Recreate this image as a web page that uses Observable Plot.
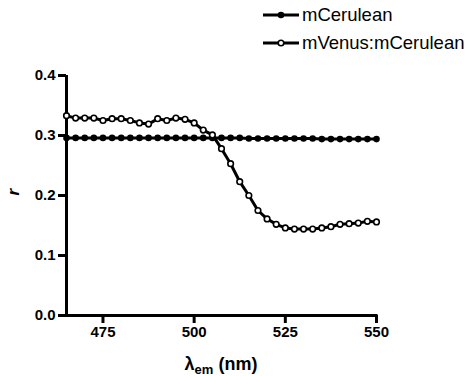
<!DOCTYPE html>
<html>
<head>
<meta charset="utf-8">
<script src="https://cdn.jsdelivr.net/npm/d3@7"></script>
<script src="https://cdn.jsdelivr.net/npm/@observablehq/plot@0.6"></script>
<style>
  html, body { margin: 0; padding: 0; background: #fff; }
  #wrap { position: relative; width: 476px; height: 376px; }
  #legend { position: absolute; left: 263px; top: 0; font-family: "Liberation Sans", Arial, sans-serif; font-size: 18.5px; color: #000; }
  .row { position: absolute; left: 0; height: 20px; display: flex; align-items: center; white-space: nowrap; }
  .row svg { margin-right: 3px; }
</style>
</head>
<body>
<div id="wrap"><div id="legend"></div></div>
<script>
const wavelengths = [465, 467.5, 470, 472.5, 475, 477.5, 480, 482.5, 485, 487.5, 490, 492.5, 495, 497.5, 500, 502.5, 505, 507.5, 510, 512.5, 515, 517.5, 520, 522.5, 525, 527.5, 530, 532.5, 535, 537.5, 540, 542.5, 545, 547.5, 550];
const mCerulean = [0.296, 0.296, 0.296, 0.296, 0.296, 0.296, 0.296, 0.296, 0.296, 0.296, 0.296, 0.296, 0.296, 0.296, 0.296, 0.296, 0.296, 0.296, 0.296, 0.296, 0.295, 0.295, 0.295, 0.295, 0.295, 0.295, 0.295, 0.295, 0.294, 0.294, 0.294, 0.294, 0.294, 0.294, 0.294];
const mVenusCerulean = [0.333, 0.329, 0.329, 0.329, 0.325, 0.328, 0.328, 0.325, 0.321, 0.319, 0.328, 0.325, 0.329, 0.327, 0.321, 0.309, 0.301, 0.278, 0.253, 0.223, 0.200, 0.175, 0.161, 0.152, 0.146, 0.144, 0.144, 0.144, 0.146, 0.148, 0.152, 0.153, 0.154, 0.157, 0.156];
const seriesNames = ["mCerulean", "mVenus:mCerulean"];
const xTicks = [475, 500, 525, 550];
const yTicks = [0, 0.1, 0.2, 0.3, 0.4];

const rows = [];
wavelengths.forEach((w, i) => {
  rows.push({series: seriesNames[0], x: w, y: mCerulean[i]});
  rows.push({series: seriesNames[1], x: w, y: mVenusCerulean[i]});
});
const cer = rows.filter(d => d.series === seriesNames[0]);
const ven = rows.filter(d => d.series === seriesNames[1]);

const font = '"Liberation Sans", Arial, sans-serif';

const chart = Plot.plot({
  width: 476,
  height: 376,
  marginLeft: 66,
  marginRight: 100,
  marginTop: 75,
  marginBottom: 61,
  style: {fontFamily: font, fontSize: "15px", fontWeight: "bold", color: "#000", background: "#fff"},
  x: {domain: [465, 550]},
  y: {domain: [0, 0.4]},
  marks: [
    Plot.axisX({ticks: xTicks, tickSize: 8, tickPadding: 3, strokeWidth: 3, label: null, tickFormat: d3.format("d")}),
    Plot.axisY({ticks: yTicks, tickSize: 8, tickPadding: 3, strokeWidth: 3, label: null, tickFormat: d3.format(".1f")}),
    Plot.ruleY([0], {x1: 465, x2: 550, strokeWidth: 3, strokeLinecap: "square"}),
    Plot.ruleX([465], {y1: 0, y2: 0.4, strokeWidth: 3}),
    Plot.lineY(cer, {x: "x", y: "y", stroke: "#000", strokeWidth: 3}),
    Plot.dot(cer, {x: "x", y: "y", r: 3.3, fill: "#000", stroke: "none"}),
    Plot.lineY(ven, {x: "x", y: "y", stroke: "#000", strokeWidth: 3}),
    Plot.dot(ven, {x: "x", y: "y", r: 2.8, fill: "#fff", stroke: "#000", strokeWidth: 1.6}),
    Plot.text(["r"], {frameAnchor: "left", rotate: -90, dx: -53, fontStyle: "italic", fontWeight: "bold", fontSize: 17, fill: "#000"})
  ]
});

// x-axis label with subscript
const svg = d3.select(chart);
const xl = svg.append("text")
  .attr("x", (66 + 376) / 2)
  .attr("y", 370)
  .attr("text-anchor", "middle")
  .attr("font-family", font)
  .attr("font-size", 18)
  .attr("font-weight", "bold")
  .attr("fill", "#000");
xl.append("tspan").text("λ");
xl.append("tspan").attr("font-size", 13).attr("dy", 4).text("em");
xl.append("tspan").attr("dy", -4).text(" (nm)");

document.getElementById("wrap").appendChild(chart);
chart.style.position = "absolute";
chart.style.left = "0";
chart.style.top = "0";
document.getElementById("wrap").appendChild(document.getElementById("legend"));

// legend
const legend = d3.select("#legend");
seriesNames.forEach((name, i) => {
  const row = legend.append("div").attr("class", "row").style("top", (5 + i * 28) + "px");
  const s = row.append("svg").attr("width", 36).attr("height", 20);
  s.append("line").attr("x1", 0).attr("x2", 36).attr("y1", 10).attr("y2", 10).attr("stroke", "#000").attr("stroke-width", 3);
  s.append("circle").attr("cx", 18).attr("cy", 10).attr("r", i === 0 ? 3.3 : 2.8)
    .attr("fill", i === 0 ? "#000" : "#fff").attr("stroke", i === 0 ? "none" : "#000").attr("stroke-width", 1.6);
  row.append("span").text(name);
});
</script>
</body>
</html>
